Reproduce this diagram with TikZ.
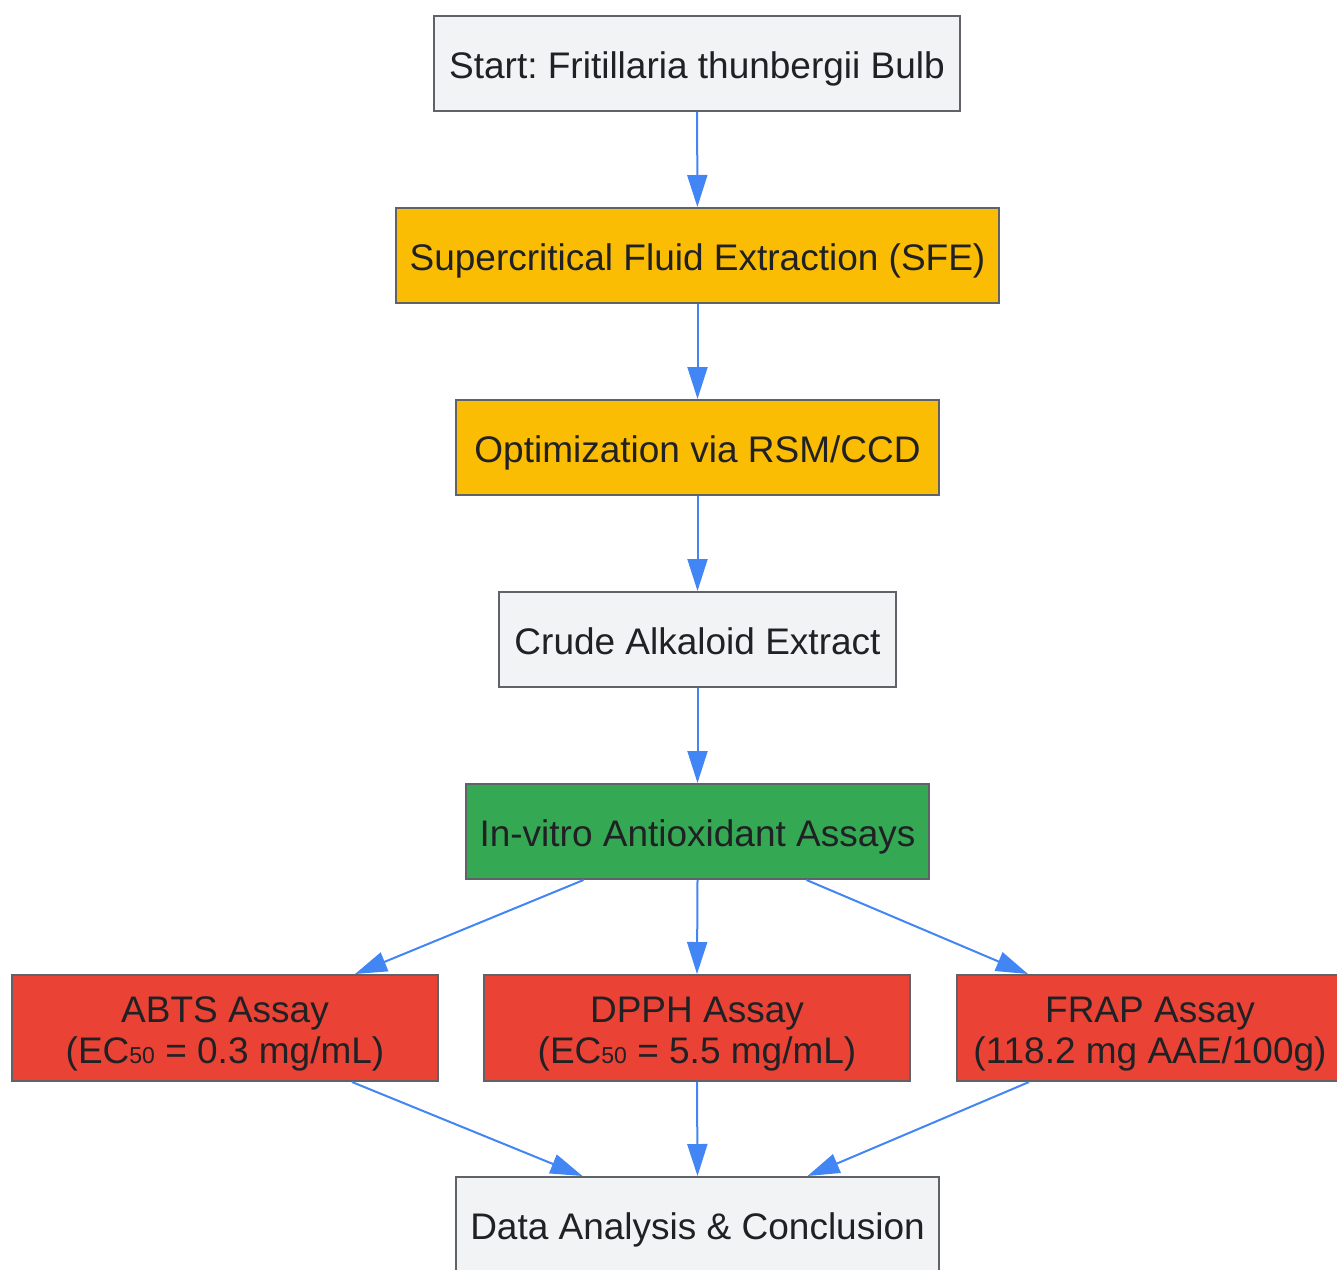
\documentclass[tikz,border=0pt]{standalone}
\usepackage{fontspec}
\setmainfont{Liberation Sans}
\usetikzlibrary{arrows.meta,calc}

\definecolor{boxgray}{HTML}{F1F3F4}
\definecolor{boxyellow}{HTML}{FBBC04}
\definecolor{boxgreen}{HTML}{34A853}
\definecolor{boxred}{HTML}{EA4335}
\definecolor{edgeblue}{HTML}{4285F4}
\definecolor{linegray}{HTML}{5F6368}
\definecolor{inkgray}{HTML}{202124}

\newcommand{\subfifty}{{\fontsize{11.5}{11.5}\selectfont 50}}
\frenchspacing

\begin{document}
\begin{tikzpicture}[x=0.5pt, y=-0.5pt,
    every node/.style={font=\fontsize{18.5}{20.5}\selectfont, text=inkgray},
    box/.style={draw=linegray, line width=1pt, rectangle, align=center,
      minimum height=47.5pt, inner sep=0pt,
      execute at begin node=\rule[-5pt]{0pt}{25pt}},
    twobox/.style={box, minimum height=53pt,
      execute at begin node=\rule{0pt}{40pt},
      execute at end node=\rule[-5pt]{0pt}{5pt}},
    flow/.style={-{Triangle[length=16pt,width=10pt]}, draw=edgeblue, line width=1pt}]
  \useasboundingbox (0,0) rectangle (1337,1269);

  \node[box, fill=boxgray, minimum width=263pt] (start) at (697,63.5) {Start: Fritillaria thunbergii Bulb};
  \node[box, fill=boxyellow, minimum width=301.5pt] (sfe) at (697.5,255.5) {Supercritical Fluid Extraction (SFE)};
  \node[box, fill=boxyellow, minimum width=241.5pt] (optim) at (697.5,447.5) {Optimization via RSM/CCD};
  \node[box, fill=boxgray, minimum width=198.5pt] (crude) at (697.5,639.5) {Crude Alkaloid Extract};
  \node[box, fill=boxgreen, minimum width=231.5pt] (invitro) at (697.5,831.5) {In-vitro Antioxidant Assays};

  % the three assays
  \node[twobox, fill=boxred, minimum width=213pt] (abts) at (225,1028) {ABTS Assay\\(EC\subfifty{} = 0.3 mg/mL)};
  \node[twobox, fill=boxred, minimum width=213pt] (dpph) at (697,1028) {DPPH Assay\\(EC\subfifty{} = 5.5 mg/mL)};
  \node[twobox, fill=boxred, minimum width=193pt] (frap) at (1150,1028) {FRAP Assay\\(118.2 mg AAE/100g)};

  \node[box, fill=boxgray, minimum width=241.5pt] (data) at (697.5,1224.5) {Data Analysis \& Conclusion};

  \draw[flow] (start) -- (sfe);
  \draw[flow] (sfe) -- (optim);
  \draw[flow] (optim) -- (crude);
  \draw[flow] (crude) -- (invitro);
  \draw[flow] ($(invitro.south)+(-114,0)$) -- ($(abts.north)+(130,0)$);
  \draw[flow] (invitro.south) -- (dpph.north);
  \draw[flow] ($(invitro.south)+(109,0)$) -- ($(frap.north)+(-122,0)$);
  \draw[flow] ($(abts.south)+(127,0)$) -- ($(data.north)+(-115,0)$);
  \draw[flow] (dpph.south) -- (data.north);
  \draw[flow] ($(frap.south)+(-121,0)$) -- ($(data.north)+(110,0)$);
\end{tikzpicture}
\end{document}
